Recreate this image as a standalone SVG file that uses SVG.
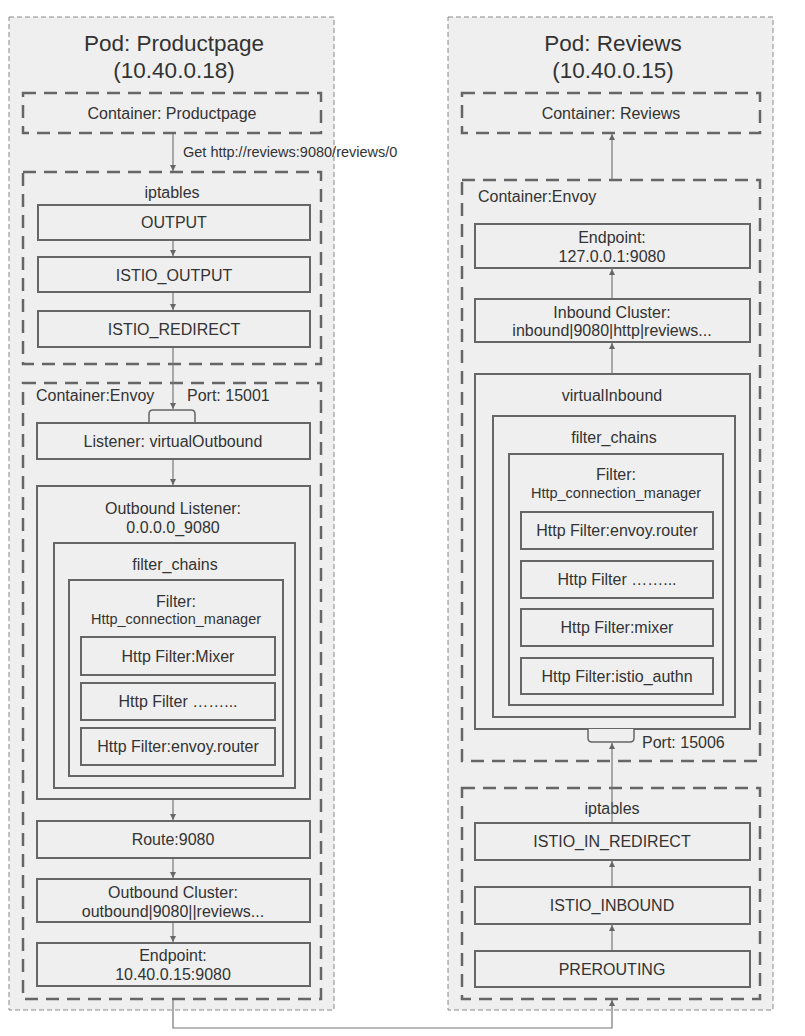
<svg xmlns="http://www.w3.org/2000/svg" width="805" height="1036" viewBox="0 0 805 1036">
<defs>
<marker id="ah" viewBox="0 0 10 10" refX="10" refY="5" markerWidth="6" markerHeight="6" markerUnits="userSpaceOnUse" orient="auto">
<path d="M0,0 L10,5 L0,10 z" fill="#666"/>
</marker>
<style>
.pod{fill:#efefef;stroke:#8a8a8a;stroke-width:1;stroke-dasharray:5 3}
.cont{fill:#efefef;stroke:#666;stroke-width:2.5;stroke-dasharray:13 8}
.box{fill:#efefef;stroke:#666;stroke-width:2}
.tab{fill:#efefef;stroke:#666;stroke-width:1.5}
.t{font-family:"Liberation Sans",Arial,sans-serif;font-size:16px;fill:#333;text-anchor:middle;dominant-baseline:central}
.s{font-size:14.5px}
.l{text-anchor:start}
.title{font-size:22.5px}
.c{fill:none;stroke:#777;stroke-width:1.2}
</style>
</defs>

<g id="pod-productpage">
<rect class="pod" x="9" y="17" width="325" height="993"/>
<text class="t title" x="174" y="43">Pod: Productpage</text>
<text class="t title" x="174" y="70">(10.40.0.18)</text>
</g>
<g id="pod-reviews">
<rect class="pod" x="448" y="17" width="325" height="993"/>
<text class="t title" x="613" y="43">Pod: Reviews</text>
<text class="t title" x="613" y="70">(10.40.0.15)</text>
</g>

<g id="container-productpage">
<rect class="cont" x="23" y="93" width="298" height="40"/>
<text class="t" x="172" y="113">Container: Productpage</text>
</g>

<g id="iptables-left">
<rect class="cont" x="23" y="172" width="298" height="192"/>
<text class="t" x="172" y="192">iptables</text>
</g>
<g id="output"><rect class="box" x="38" y="205" width="272" height="35"/><text class="t" x="174" y="222">OUTPUT</text></g>
<g id="istio-output"><rect class="box" x="38" y="257" width="272" height="35"/><text class="t" x="174" y="275">ISTIO_OUTPUT</text></g>
<g id="istio-redirect"><rect class="box" x="38" y="311" width="272" height="36"/><text class="t" x="174" y="329">ISTIO_REDIRECT</text></g>

<g id="envoy-left">
<rect class="cont" x="23" y="383" width="298" height="616"/>
<text class="t l" x="36" y="395">Container:Envoy</text>
<text class="t l" x="187" y="395">Port: 15001</text>
</g>
<g id="port-15001"><path class="tab" d="M149,423 V414 Q149,410 153,410 H191 Q195,410 195,414 V423"/></g>
<g id="listener-virtualoutbound"><rect class="box" x="37" y="423" width="273" height="36"/><text class="t" x="173" y="441">Listener: virtualOutbound</text></g>
<g id="outbound-listener">
<rect class="box" x="37" y="486" width="273" height="313"/>
<text class="t" x="173" y="508">Outbound Listener:</text>
<text class="t" x="173" y="527">0.0.0.0_9080</text>
</g>
<g id="filter-chains-left">
<rect class="box" x="54" y="543" width="241" height="245"/>
<text class="t" x="175" y="564">filter_chains</text>
</g>
<g id="filter-hcm-left">
<rect class="box" x="69" y="580" width="214" height="196"/>
<text class="t" x="176" y="601">Filter:</text>
<text class="t s" x="176" y="619">Http_connection_manager</text>
</g>
<g id="hf-mixer-left"><rect class="box" x="81" y="637" width="194" height="38"/><text class="t" x="178" y="656">Http Filter:Mixer</text></g>
<g id="hf-dots-left"><rect class="box" x="81" y="683" width="194" height="37"/><text class="t" x="178" y="701">Http Filter ……...</text></g>
<g id="hf-router-left"><rect class="box" x="81" y="728" width="194" height="37"/><text class="t" x="178" y="746">Http Filter:envoy.router</text></g>
<g id="route-9080"><rect class="box" x="37" y="821" width="273" height="37"/><text class="t" x="173" y="839">Route:9080</text></g>
<g id="outbound-cluster">
<rect class="box" x="37" y="879" width="273" height="43"/>
<text class="t" x="173" y="892">Outbound Cluster:</text>
<text class="t" x="173" y="911">outbound|9080||reviews...</text>
</g>
<g id="endpoint-left">
<rect class="box" x="37" y="943" width="273" height="43"/>
<text class="t" x="173" y="955">Endpoint:</text>
<text class="t" x="173" y="974">10.40.0.15:9080</text>
</g>

<g id="container-reviews">
<rect class="cont" x="462" y="93" width="298" height="40"/>
<text class="t" x="611" y="113">Container: Reviews</text>
</g>
<g id="envoy-right">
<rect class="cont" x="462" y="180" width="298" height="581"/>
<text class="t l" x="478" y="196">Container:Envoy</text>
<text class="t l" x="642" y="742">Port: 15006</text>
</g>
<g id="endpoint-right">
<rect class="box" x="475" y="224" width="275" height="44"/>
<text class="t" x="612" y="237">Endpoint:</text>
<text class="t" x="612" y="256">127.0.0.1:9080</text>
</g>
<g id="inbound-cluster">
<rect class="box" x="475" y="299" width="275" height="43"/>
<text class="t" x="612" y="312">Inbound Cluster:</text>
<text class="t" x="612" y="330">inbound|9080|http|reviews...</text>
</g>
<g id="virtualinbound">
<rect class="box" x="475" y="374" width="275" height="355"/>
<text class="t" x="612" y="395">virtualInbound</text>
</g>
<g id="filter-chains-right">
<rect class="box" x="493" y="416" width="242" height="301"/>
<text class="t" x="614" y="437">filter_chains</text>
</g>
<g id="filter-hcm-right">
<rect class="box" x="509" y="454" width="214" height="251"/>
<text class="t" x="616" y="474">Filter:</text>
<text class="t s" x="616" y="493">Http_connection_manager</text>
</g>
<g id="hf-router-right"><rect class="box" x="521" y="512" width="192" height="37"/><text class="t" x="617" y="530">Http Filter:envoy.router</text></g>
<g id="hf-dots-right"><rect class="box" x="521" y="561" width="192" height="37"/><text class="t" x="617" y="579">Http Filter ……...</text></g>
<g id="hf-mixer-right"><rect class="box" x="521" y="609" width="192" height="37"/><text class="t" x="617" y="627">Http Filter:mixer</text></g>
<g id="hf-authn-right"><rect class="box" x="521" y="658" width="192" height="36"/><text class="t" x="617" y="676">Http Filter:istio_authn</text></g>
<g id="port-15006"><path class="tab" d="M588,729 V738 Q588,742 592,742 H630 Q634,742 634,738 V729"/></g>

<g id="iptables-right">
<rect class="cont" x="462" y="788" width="298" height="211"/>
<text class="t" x="612" y="808">iptables</text>
</g>
<g id="istio-in-redirect"><rect class="box" x="475" y="823" width="275" height="37"/><text class="t" x="612" y="841">ISTIO_IN_REDIRECT</text></g>
<g id="istio-inbound"><rect class="box" x="475" y="887" width="275" height="37"/><text class="t" x="612" y="905">ISTIO_INBOUND</text></g>
<g id="prerouting"><rect class="box" x="475" y="951" width="275" height="36"/><text class="t" x="612" y="969">PREROUTING</text></g>

<g id="connectors">
<path class="c" d="M173,134 V171" marker-end="url(#ah)"/>
<text class="t s l" x="183" y="152">Get http://reviews:9080/reviews/0</text>
<path class="c" d="M173,241 V256" marker-end="url(#ah)"/>
<path class="c" d="M173,293 V310" marker-end="url(#ah)"/>
<path class="c" d="M173,348 V409" marker-end="url(#ah)"/>
<path class="c" d="M173,460 V485" marker-end="url(#ah)"/>
<path class="c" d="M173,800 V820" marker-end="url(#ah)"/>
<path class="c" d="M173,859 V878" marker-end="url(#ah)"/>
<path class="c" d="M173,923 V942" marker-end="url(#ah)"/>
<path class="c" d="M173,1000 V1028 H612 V1000" marker-end="url(#ah)"/>
<path class="c" d="M612,950 V925" marker-end="url(#ah)"/>
<path class="c" d="M612,886 V861" marker-end="url(#ah)"/>
<path class="c" d="M612,822 V743" marker-end="url(#ah)"/>
<path class="c" d="M612,373 V343" marker-end="url(#ah)"/>
<path class="c" d="M612,298 V269" marker-end="url(#ah)"/>
<path class="c" d="M612,179 V134" marker-end="url(#ah)"/>
</g>
</svg>
